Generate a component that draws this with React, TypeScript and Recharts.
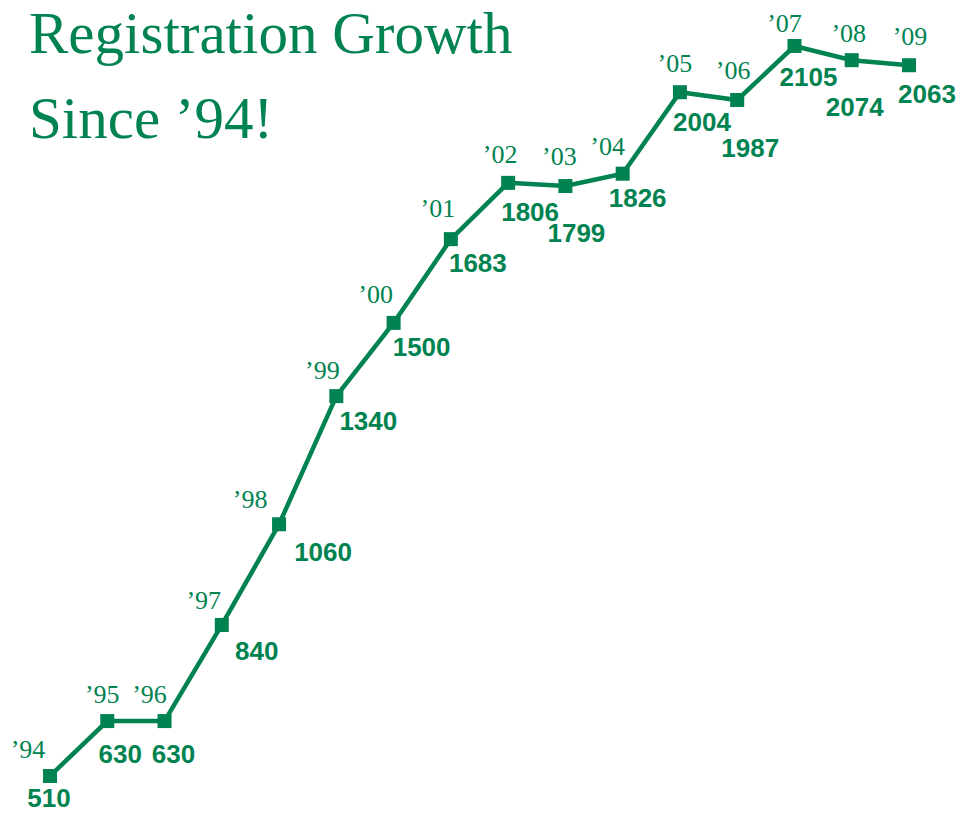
import React from 'react';
import { LineChart, Line, XAxis, YAxis, LabelList } from 'recharts';

// Registration counts per year, 1994 - 2009
const years = ['’94', '’95', '’96', '’97', '’98', '’99', '’00', '’01', '’02', '’03', '’04', '’05', '’06', '’07', '’08', '’09'];
const registrations = [510, 630, 630, 840, 1060, 1340, 1500, 1683, 1806, 1799, 1826, 2004, 1987, 2105, 2074, 2063];

// hand-placed label nudges (px from the marker centre), as in the original artwork
const yearDx = [-22, -5, -15, -18, -29, -14, -18, -13, -8, -6, -15, -5, -4, -10, -3, 1];
const yearDy = [-18, -18, -18, -16, -16, -17, -20, -22, -20, -21, -19, -20, -21, -14, -18, -20];
const valueDx = [-1, 13, 9, 35, 44, 32, 28, 27, 22, 11, 15, 22, 13, 14, 3, 18];
const valueDy = [31, 42, 42, 35, 37, 34, 33, 33, 38, 56, 33, 39, 57, 40, 56, 38];

const GREEN = '#008350';
const SERIF = '"Liberation Serif", "Times New Roman", serif';
const SANS = '"Liberation Sans", Arial, sans-serif';

const data = years.map((year, i) => ({ year, value: registrations[i] }));

const SquareDot = (props: any) => {
  const { cx, cy, index } = props;
  if (cx == null || cy == null) return null;
  return <rect key={`dot-${index}`} x={cx - 7} y={cy - 7} width={14} height={14} fill={GREEN} />;
};

const YearLabel = (props: any) => {
  const { x, y, value, index } = props;
  const i = index ?? years.indexOf(value);
  return (
    <text x={x + yearDx[i]} y={y + yearDy[i]} textAnchor="middle" fill={GREEN}
      fontFamily={SERIF} fontSize={26}>
      {value}
    </text>
  );
};

const ValueLabel = (props: any) => {
  const { x, y, value, index } = props;
  const i = index ?? registrations.indexOf(value);
  return (
    <text x={x + valueDx[i]} y={y + valueDy[i]} textAnchor="middle" fill={GREEN}
      fontFamily={SANS} fontWeight="bold" fontSize={26}>
      {value}
    </text>
  );
};

const App: React.FC = () => {
  return (
    <div style={{ position: 'relative', width: 956, height: 806, background: '#fff' }}>
      <div
        style={{
          position: 'absolute',
          left: 21,
          top: -17,
          fontFamily: SERIF,
          fontSize: 59,
          lineHeight: '85px',
          color: GREEN,
          whiteSpace: 'nowrap',
          zIndex: 2,
        }}
      >
        <div>Registration Growth</div>
        <div>Since ’94!</div>
      </div>
      <LineChart width={956} height={806} data={data} margin={{ top: 38, right: 55, bottom: 38, left: 42 }}>
        <XAxis dataKey="year" hide />
        <YAxis hide domain={['dataMin', 'dataMax']} />
        <Line
          type="linear"
          dataKey="value"
          stroke={GREEN}
          strokeWidth={4.5}
          dot={SquareDot}
          activeDot={false}
          isAnimationActive={false}
        >
          <LabelList dataKey="year" content={YearLabel} />
          <LabelList dataKey="value" content={ValueLabel} />
        </Line>
      </LineChart>
    </div>
  );
};

export default App;
